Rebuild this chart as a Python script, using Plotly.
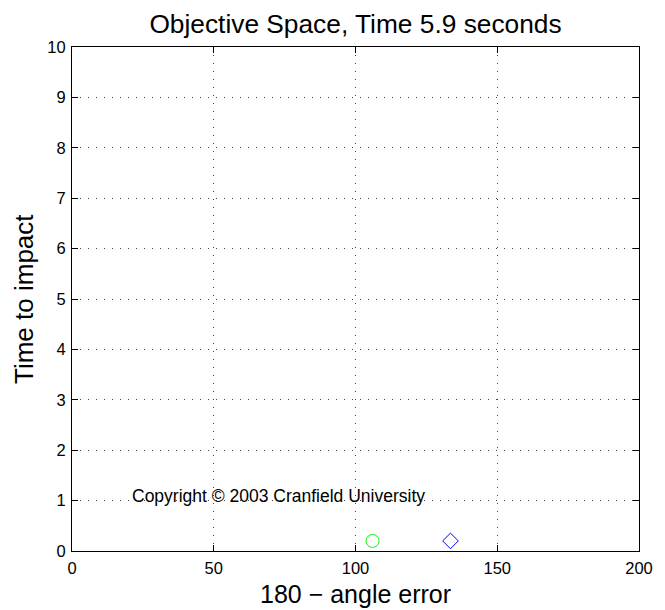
import plotly.graph_objects as go

x_ticks = [0, 50, 100, 150, 200]
y_ticks = list(range(0, 11))
circle_x = [106]
circle_y = [0.2]
diamond_x = [133.5]
diamond_y = [0.2]
title = "Objective Space, Time 5.9 seconds"
x_title = "180 \u2212 angle error"
y_title = "Time to impact"
note = "Copyright \u00a9 2003 Cranfield University"

W, H = 657, 602

fig = go.Figure()
fig.add_trace(go.Scatter(x=circle_x, y=circle_y, mode="markers",
                         marker=dict(symbol="circle-open", size=13, color="#00ff00", line=dict(width=1))))
fig.add_trace(go.Scatter(x=diamond_x, y=diamond_y, mode="markers",
                         marker=dict(symbol="diamond-open", size=12, color="#0000ff", line=dict(width=1))))
fig.add_annotation(x=21, y=1.1, xref="x", yref="y", text=note, showarrow=False,
                   xanchor="left", yanchor="middle", xshift=-2, font=dict(size=17.5, color="black"))
fig.add_annotation(x=0.5, y=0, xref="paper", yref="paper", text=x_title, showarrow=False,
                   xanchor="center", yanchor="middle", yshift=-43, borderpad=0,
                   font=dict(size=25, color="black"))
fig.add_annotation(x=0, y=0.5, xref="paper", yref="paper", text=y_title, showarrow=False,
                   textangle=-90, xanchor="center", yanchor="middle", xshift=-48,
                   font=dict(size=26, color="black"))

axis_common = dict(showline=True, linecolor="black", linewidth=1, mirror="ticks",
                   ticks="inside", ticklen=6, tickcolor="black",
                   showgrid=True, gridcolor="#444444", griddash="1px,7px", gridwidth=1,
                   zeroline=False, tickfont=dict(size=16.5, color="black"))

fig.update_layout(
    width=W, height=H,
    margin=dict(l=64, r=16, t=39, b=59),
    paper_bgcolor="white", plot_bgcolor="white",
    font=dict(family="Liberation Sans, Arial, sans-serif", color="black"),
    showlegend=False,
    title=dict(text=title, x=0.5, xanchor="center", xref="paper",
               y=1 - 16 / H, yanchor="middle", font=dict(size=26.3)),
    xaxis=dict(range=[0, 200], tickvals=x_ticks, ticklabelstandoff=2, **axis_common),
    yaxis=dict(range=[0, 10], tickvals=y_ticks, ticklabelstandoff=2, **axis_common),
)
fig.write_html("out.html")
